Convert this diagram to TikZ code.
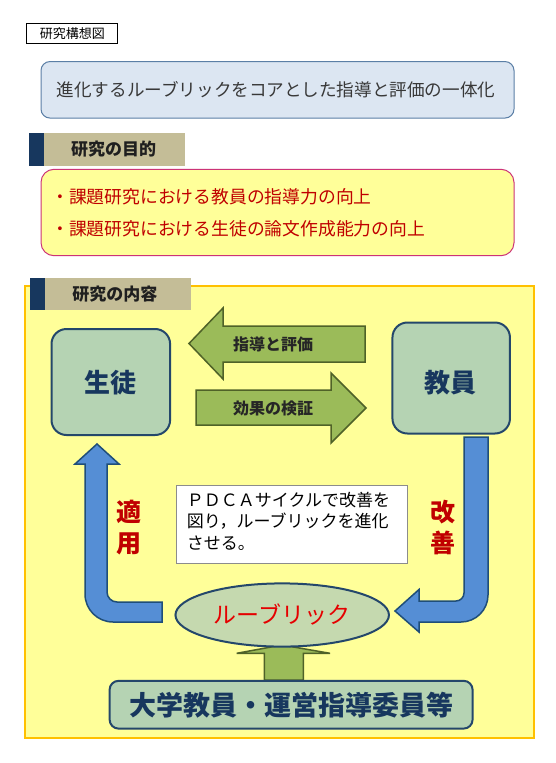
\documentclass[tikz,border=0pt]{standalone}
\usepackage{fontspec}
\newfontfamily\jp{Noto Sans CJK JP}
\usetikzlibrary{shapes.geometric}
\definecolor{navy}{HTML}{17375E}
\definecolor{tan}{HTML}{C4BD97}
\definecolor{ylw}{HTML}{FFFF99}
\definecolor{gold}{HTML}{FFC000}
\definecolor{sage}{HTML}{B5D3B3}
\definecolor{sageline}{HTML}{24476B}
\definecolor{olive}{HTML}{9BBB59}
\definecolor{oliveline}{HTML}{4F6228}
\definecolor{bluef}{HTML}{558ED5}
\definecolor{bluel}{HTML}{1F4E79}
\definecolor{darkred}{HTML}{C00000}
\definecolor{titlefill}{HTML}{DCE6F2}
\definecolor{titleline}{HTML}{5B7FA6}
\definecolor{pink}{HTML}{CC3377}
\definecolor{ellfill}{HTML}{C5D9AF}
\tikzset{
  jpt/.style={font=\jp, inner sep=0pt},
  sagebox/.style={draw=sageline, fill=sage, line width=2pt, rounded corners=15pt},
  oarrow/.style={draw=oliveline, fill=olive, line width=1.5pt, line join=miter},
  barrow/.style={draw=bluel, fill=bluef, line width=1.5pt, line join=miter},
  hdrbar/.style={fill=navy},
  hdrtan/.style={fill=tan},
}
\begin{document}
\begin{tikzpicture}[x=1pt,y=-1pt]
\useasboundingbox (0,0) rectangle (556,763);
\fill[white] (0,0) rectangle (556,763);

% top label
\node[draw=black, line width=1.2pt, fill=white, minimum width=91pt, minimum height=20.5pt, jpt] (lbl) at (72.3,33.5) {\fontsize{13}{15}\selectfont 研究構想図};

% title
\node[draw=titleline, fill=titlefill, line width=1pt, rounded corners=9pt, minimum width=473pt, minimum height=56.5pt, jpt] (title) at (277.5,89.8) {};
\node[jpt, text=black!78] (titletxt) at (276,89.5) {\fontsize{17.6}{22}\selectfont 進化するルーブリックをコアとした指導と評価の一体化};

% header 1
\fill[hdrtan] (43.7,133.4) rectangle (184.5,165.9);
\fill[hdrbar] (29,133.4) rectangle (43.7,165.9);
\node[jpt, text=black!88] (h1) at (113.5,149) {\fontsize{17}{20}\selectfont\bfseries 研究の目的};

% objectives box
\node[draw=pink, fill=ylw, line width=1pt, rounded corners=13pt, minimum width=473pt, minimum height=86.4pt, jpt] (obj) at (277.5,212.5) {};
\node[jpt, text=darkred, anchor=west] (obj1) at (51,196.6) {\fontsize{17.8}{21}\selectfont ・課題研究における教員の指導力の向上};
\node[jpt, text=darkred, anchor=west] (obj2) at (51,229) {\fontsize{17.8}{21}\selectfont ・課題研究における生徒の論文作成能力の向上};

% big yellow box
\node[draw=gold, fill=ylw, line width=2pt, minimum width=509pt, minimum height=452pt, jpt] (content) at (279.5,512) {};

% header 2
\fill[hdrtan] (44.6,277.5) rectangle (191,310);
\fill[hdrbar] (30,277.5) rectangle (44.6,310);
\node[jpt, text=black!88] (h2) at (114.8,294.5) {\fontsize{17}{20}\selectfont\bfseries 研究の内容};

% student & teacher boxes
\node[sagebox, minimum width=118.6pt, minimum height=106pt, jpt] (student) at (110.8,382) {};
\node[jpt, text=navy] (studenttxt) at (110.5,382.5) {\fontsize{26}{30}\selectfont\bfseries 生徒};
\node[sagebox, minimum width=117.5pt, minimum height=111pt, jpt] (teacher) at (451.2,378) {};
\node[jpt, text=navy] (teachertxt) at (450.5,382.5) {\fontsize{26}{30}\selectfont\bfseries 教員};

% olive arrows
\draw[oarrow] (365,326) -- (223,326) -- (223,308) -- (189,343.5) -- (223,379) -- (223,362) -- (365,362) -- cycle;
\node[jpt, text=black!85] (guide) at (273,344) {\fontsize{16}{19}\selectfont\bfseries 指導と評価};
\draw[oarrow] (196,390) -- (331,390) -- (331,373) -- (366,408) -- (331,443) -- (331,425) -- (196,425) -- cycle;
\node[jpt, text=black!85] (verify) at (273,408) {\fontsize{16}{19}\selectfont\bfseries 効果の検証};

% blue arrows
\draw[barrow] (162,602) -- (162,622) -- (113,622) .. controls (97.5,622) and (85,609.5) .. (85,594) -- (85,464) -- (75,464) -- (97,444) -- (119,464) -- (107,464) -- (107,592) .. controls (107,597.5) and (111.5,602) .. (117,602) -- cycle;
\draw[barrow] (464,437) -- (488,437) -- (488,595) .. controls (488,609.9) and (475.9,622) .. (461,622) -- (419,622) -- (419,632) -- (395,611) -- (419,589.5) -- (419,601) -- (456,601) .. controls (460.4,601) and (464,597.4) .. (464,593) -- cycle;

% labels
\node[jpt, text=darkred, align=center, font=\jp\fontsize{25}{31}\selectfont\bfseries] (apply) at (129,527.5) {適\\用};
\node[jpt, text=darkred, align=center, font=\jp\fontsize{25}{31}\selectfont\bfseries] (improve) at (442.7,527.5) {改\\善};

% PDCA box
\node[draw=black!45, fill=white, line width=0.8pt, minimum width=230.5pt, minimum height=78pt, jpt] (pdca) at (291.8,524) {};
\node[jpt, anchor=north west, align=left, text=black, font=\jp\fontsize{17}{21.5}\selectfont] (pdcatxt) at (186.7,491.5) {ＰＤＣＡサイクルで改善を\\図り，ルーブリックを進化\\させる。};

% up arrow
\draw[oarrow] (264.3,680) -- (264.3,653.3) -- (236.7,653.3) -- (282,645) -- (330,653.3) -- (303.3,653.3) -- (303.3,680) -- cycle;

% rubric ellipse
\node[ellipse, draw=sageline, fill=ellfill, line width=2pt, minimum width=213.5pt, minimum height=63.2pt, inner sep=0pt] (rubric) at (282.2,615) {};
\node[jpt, text=red!90!black] (rubrictxt) at (282,614) {\fontsize{23}{27}\selectfont ルーブリック};

% bottom box
\node[draw=sageline, fill=sage, line width=2pt, rounded corners=9pt, minimum width=363pt, minimum height=47.8pt, jpt] (univ) at (291.1,704.7) {};
\node[jpt, text=navy] (univtxt) at (291.5,704.7) {\fontsize{27}{31}\selectfont\bfseries 大学教員・運営指導委員等};
\end{tikzpicture}
\end{document}
